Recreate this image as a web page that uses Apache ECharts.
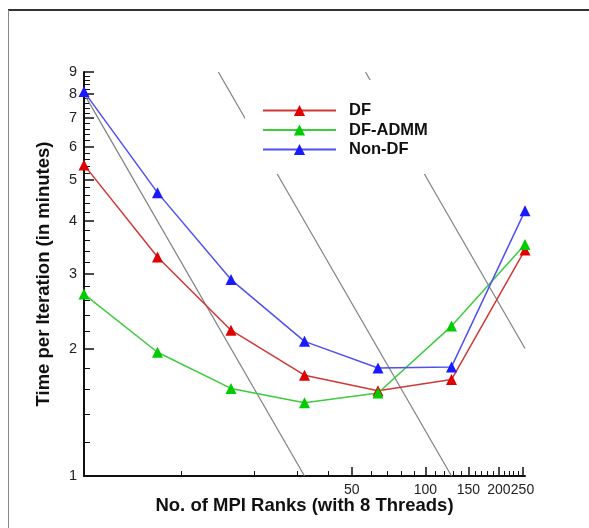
<!DOCTYPE html>
<html>
<head>
<meta charset="utf-8">
<script src="https://cdn.jsdelivr.net/npm/echarts@6/dist/echarts.min.js"></script>
<style>
  html, body { margin: 0; padding: 0; background: #fff; }
  #main { width: 589px; height: 528px; }
</style>
</head>
<body>
<div id="main"></div>
<script>
// MPI ranks (x) and time per iteration in minutes (y)
const ranks = [4, 8, 16, 32, 64, 128, 256]
const df = [5.43, 3.29, 2.21, 1.73, 1.59, 1.69, 3.42]
const dfAdmm = [2.69, 1.96, 1.61, 1.49, 1.57, 2.26, 3.52]
const nonDf = [8.09, 4.67, 2.91, 2.08, 1.80, 1.81, 4.23]

// ideal scaling guide lines (end points)
const ideal1 = [[4, 8], [32, 1]]
const ideal2 = [[14.2, 9], [128, 1]]
const ideal3 = [[56.9, 9], [256, 2]]

// tick values
const xLabels = [50, 100, 150, 200, 250]
const xMinor = [10, 20, 30, 40, 60, 70, 80, 90, 110, 120, 130, 140, 160, 170, 180, 190, 210, 220, 230, 240]
const yLabels = [1, 2, 3, 4, 5, 6, 7, 8, 9]
const yMinor = []
for (let i = 1; i < 9; i++) {
  for (let j = 1; j < 5; j++) yMinor.push(+(i + j * 0.2).toFixed(1))
}

const pairs = (xs, ys) => xs.map((x, i) => [x, ys[i]])

let myChart = echarts.init(document.getElementById('main'))

const fontFamily = '"Liberation Sans", Arial, sans-serif'

const xBase = {
  type: 'log',
  min: 4,
  max: 256,
  position: 'bottom',
  splitLine: { show: false },
  minorTick: { show: false }
}
const yBase = {
  type: 'log',
  min: 1,
  max: 9,
  position: 'left',
  splitLine: { show: false },
  minorTick: { show: false }
}

const mkSeries = (name, data, lineColor, dotColor) => ({
  name: name,
  type: 'line',
  data: pairs(ranks, data),
  symbol: 'triangle',
  symbolSize: 11,
  showAllSymbol: true,
  lineStyle: { color: lineColor, width: 1.5 },
  itemStyle: { color: dotColor },
  z: 3
})

const mkGuide = (data) => ({
  type: 'line',
  data: data,
  symbol: 'none',
  silent: true,
  lineStyle: { color: '#808080', width: 1.2 },
  z: 1
})

let option = {
  animation: false,
  backgroundColor: '#fff',
  textStyle: { fontFamily: fontFamily },
  grid: { left: 84, right: 64, top: 72, bottom: 52 },
  graphic: [
    { type: 'line', shape: { x1: 8, y1: 10, x2: 589, y2: 10 }, style: { stroke: '#333', lineWidth: 2 } },
    { type: 'line', shape: { x1: 8.5, y1: 10, x2: 8.5, y2: 528 }, style: { stroke: '#888', lineWidth: 1 } }
  ],
  legend: {
    orient: 'vertical',
    left: 245,
    top: 80,
    padding: [22, 6, 16, 17],
    backgroundColor: '#fff',
    itemWidth: 73,
    itemHeight: 14,
    itemGap: 2.5,
    data: ['DF', 'DF-ADMM', 'Non-DF'],
    textStyle: { fontFamily: fontFamily, fontSize: 16.5, lineHeight: 14, fontWeight: 'bold', color: '#111', padding: [0, 0, 0, 8] }
  },
  xAxis: [
    Object.assign({}, xBase, {
      name: 'No. of MPI Ranks (with 8 Threads)',
      nameLocation: 'middle',
      nameGap: 20,
      nameMoveOverlap: false,
      nameTextStyle: { fontFamily: fontFamily, fontSize: 18.5, fontWeight: 'bold', color: '#111' },
      axisLine: { lineStyle: { color: '#111', width: 2 } },
      axisTick: { inside: true, length: 9, customValues: xLabels, lineStyle: { color: '#111', width: 1.5 } },
      axisLabel: { customValues: xLabels, margin: 7, hideOverlap: false, fontSize: 14, color: '#222', fontFamily: fontFamily }
    }),
    Object.assign({}, xBase, {
      axisLine: { show: false },
      axisTick: { inside: true, length: 5, customValues: xMinor, lineStyle: { color: '#111', width: 1 } },
      axisLabel: { show: false }
    })
  ],
  yAxis: [
    Object.assign({}, yBase, {
      name: 'Time per Iteration (in minutes)',
      nameLocation: 'middle',
      nameGap: 31,
      nameMoveOverlap: false,
      nameTextStyle: { fontFamily: fontFamily, fontSize: 18.5, fontWeight: 'bold', color: '#111' },
      axisLine: { lineStyle: { color: '#111', width: 2 } },
      axisTick: { inside: true, length: 10, customValues: yLabels, lineStyle: { color: '#111', width: 1.5 } },
      axisLabel: { customValues: yLabels, margin: 7, hideOverlap: false, fontSize: 14.5, color: '#222', fontFamily: fontFamily }
    }),
    Object.assign({}, yBase, {
      axisLine: { show: false },
      axisTick: { inside: true, length: 6, customValues: yMinor, lineStyle: { color: '#111', width: 1 } },
      axisLabel: { show: false }
    })
  ],
  series: [
    mkGuide(ideal1),
    mkGuide(ideal2),
    mkGuide(ideal3),
    mkSeries('DF', df, '#d03838', '#e00000'),
    mkSeries('DF-ADMM', dfAdmm, '#3ccc3c', '#00cc00'),
    mkSeries('Non-DF', nonDf, '#5050f0', '#1a1aff')
  ]
}
myChart.setOption(option)

window.addEventListener('resize', () => {
  myChart.resize()
})
</script>
</body>
</html>
